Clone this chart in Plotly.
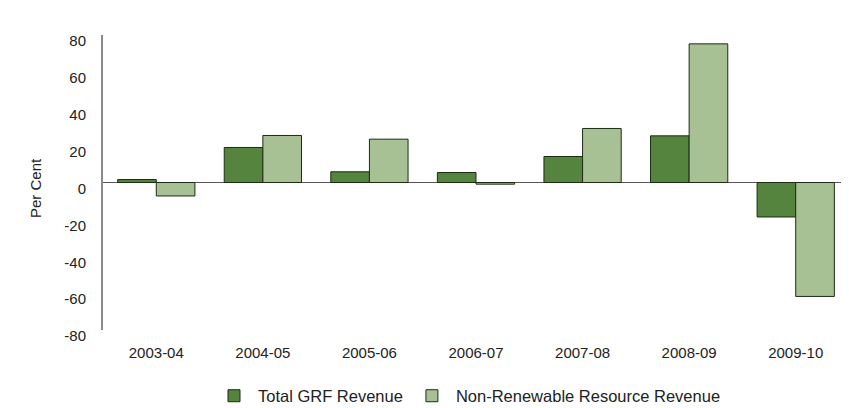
import plotly.graph_objects as go

years = ["2003-04", "2004-05", "2005-06", "2006-07", "2007-08", "2008-09", "2009-10"]
total_grf = [1.6, 19.0, 5.8, 5.4, 14.1, 25.3, -18.7]
non_renewable = [-7.3, 25.5, 23.5, -0.9, 29.3, 75.2, -61.8]
y_tick_values = [80, 60, 40, 20, 0, -20, -40, -60, -80]
y_tick_labels = ["80", "60", "40", "20", "0", "-20", "-40", "-60", "-80"]

fig = go.Figure()
fig.add_bar(x=years, y=total_grf, name="Total GRF Revenue",
            marker=dict(color="#55843f", line=dict(color="#1c2c12", width=1)))
fig.add_bar(x=years, y=non_renewable, name="Non-Renewable Resource Revenue",
            marker=dict(color="#a8c194", line=dict(color="#1c2c12", width=1)))

# page body has an 8px margin, so the figure is 841x400 and offsets are reduced by 8
fig.update_layout(
    width=841, height=400,
    margin=dict(l=95, r=0, t=27, b=78, autoexpand=False),
    paper_bgcolor="white", plot_bgcolor="white",
    barmode="group", bargap=0.275, bargroupgap=0,
    font=dict(family="Liberation Sans, Arial, sans-serif", color="#222222", size=14),
    showlegend=True,
    legend=dict(orientation="h", x=460 / 841, xanchor="center", xref="container",
                y=12 / 400, yanchor="middle", yref="container",
                font=dict(size=16.5), itemwidth=38, traceorder="normal"),
    annotations=[dict(text="Per Cent", xref="x domain", yref="y domain",
                      x=(35 - 103) / 746, y=(330 - 188) / 295,
                      xanchor="center", yanchor="middle",
                      showarrow=False, textangle=-90, font=dict(size=15))],
)
fig.update_yaxes(range=[-80, 80], tickvals=y_tick_values, ticktext=y_tick_labels,
                 showgrid=False, automargin=False,
                 showline=True, linecolor="#8a8a8a", linewidth=2,
                 zeroline=True, zerolinecolor="#555555", zerolinewidth=1,
                 ticks="", ticklabelshift=6, ticklabelstandoff=12,
                 tickfont=dict(size=15))
fig.update_xaxes(type="category", showline=False, showgrid=False, ticks="",
                 automargin=False, tickfont=dict(size=15), ticklabelstandoff=12)

fig.write_html("out.html")
